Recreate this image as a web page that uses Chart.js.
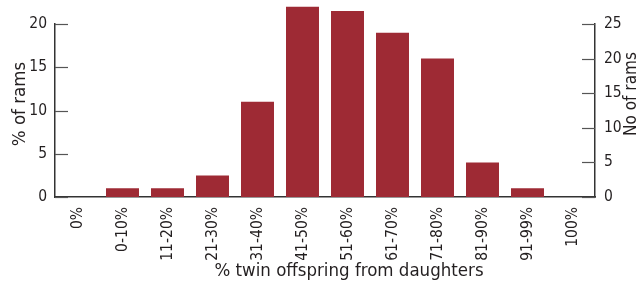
<!DOCTYPE html>
<html>
<head>
<meta charset="utf-8">
<script src="https://cdn.jsdelivr.net/npm/chart.js@4/dist/chart.umd.min.js"></script>
<style>
    html, body { margin: 0; padding: 0; background: #fff; }
    #ramContainer { width: 641px; height: 289px; }
</style>
</head>
<body>
<div id="ramContainer"><canvas id="ramPlot"></canvas></div>
<script>
const categories = ["0%", "0-10%", "11-20%", "21-30%", "31-40%", "41-50%", "51-60%",
    "61-70%", "71-80%", "81-90%", "91-99%", "100%"];
const pctRams = [0, 1, 1, 2.5, 11, 22, 21.5, 19, 16, 4, 1, 0];
const pctTicks = [0, 5, 10, 15, 20];
const countTicks = [0, 5, 10, 15, 20, 25];

const barColour = "rgb(158, 42, 52)";
const textColour = "#231f20";
const fontName = "'Liberation Sans Narrow', 'DejaVu Sans Condensed', sans-serif";

Chart.defaults.font.family = fontName;
Chart.defaults.color = textColour;

// ticks point inwards and titles sit a little off centre, so draw them by hand
const axisExtras = {
    id: "axisExtras",
    afterDraw: function (chart) {
        const ctx = chart.ctx;
        const area = chart.chartArea;
        const left = chart.scales.y;
        const right = chart.scales.y1;
        ctx.save();
        ctx.strokeStyle = "#555";
        ctx.lineWidth = 1.2;
        for (const t of pctTicks) {
            const py = Math.round(left.getPixelForValue(t)) + 0.5;
            ctx.beginPath();
            ctx.moveTo(area.left, py);
            ctx.lineTo(area.left + 13, py);
            ctx.stroke();
        }
        for (const t of countTicks) {
            const py = Math.round(right.getPixelForValue(t)) + 0.5;
            ctx.beginPath();
            ctx.moveTo(area.right - 13, py);
            ctx.lineTo(area.right, py);
            ctx.stroke();
        }
        ctx.fillStyle = textColour;
        ctx.textAlign = "center";
        ctx.textBaseline = "middle";
        ctx.font = "18.5px " + fontName;
        ctx.fillText("% twin offspring from daughters", (area.left + area.right) / 2 + 24, 271);

        ctx.translate(20, 104);
        ctx.rotate(-Math.PI / 2);
        ctx.font = "18.5px " + fontName;
        ctx.fillText("% of rams", 0, 0);
        ctx.restore();

        ctx.save();
        ctx.fillStyle = textColour;
        ctx.textAlign = "center";
        ctx.textBaseline = "middle";
        ctx.font = "17px " + fontName;
        ctx.translate(632, 94);
        ctx.rotate(-Math.PI / 2);
        ctx.fillText("No of rams", 0, 0);
        ctx.restore();
    }
};

const ctx = document.getElementById("ramPlot").getContext("2d");
const ramChart = new Chart(ctx, {
    type: "bar",
    data: {
        labels: categories,
        datasets: [{
            label: "% of rams",
            data: pctRams,
            backgroundColor: barColour,
            barPercentage: 0.733,
            categoryPercentage: 1,
            clip: false,
            yAxisID: "y"
        }]
    },
    options: {
        responsive: true,
        maintainAspectRatio: false,
        animation: false,
        layout: { padding: { top: 24, left: 0, right: 0, bottom: 0 } },
        plugins: {
            legend: { display: false },
            tooltip: { enabled: false }
        },
        scales: {
            x: {
                grid: { display: false, drawTicks: false },
                border: { display: true, color: "#333", width: 1.5 },
                ticks: {
                    font: { size: 15.5 },
                    maxRotation: 90,
                    minRotation: 90,
                    padding: 10,
                    autoSkip: false
                },
                afterFit: function (s) { s.height = 92; }
            },
            y: {
                position: "left",
                min: 0,
                max: 20,
                grid: { display: false, drawTicks: false },
                border: { display: true, color: "#333", width: 1.5 },
                ticks: { stepSize: 5, font: { size: 15.5 }, padding: 8 },
                afterFit: function (s) { s.width = 55; }
            },
            y1: {
                position: "right",
                min: 0,
                max: 25,
                grid: { display: false, drawTicks: false },
                border: { display: true, color: "#333", width: 1.5 },
                ticks: { stepSize: 5, font: { size: 15.5 }, padding: 9 },
                afterFit: function (s) { s.width = 46; }
            }
        }
    },
    plugins: [axisExtras]
});
</script>
</body>
</html>
